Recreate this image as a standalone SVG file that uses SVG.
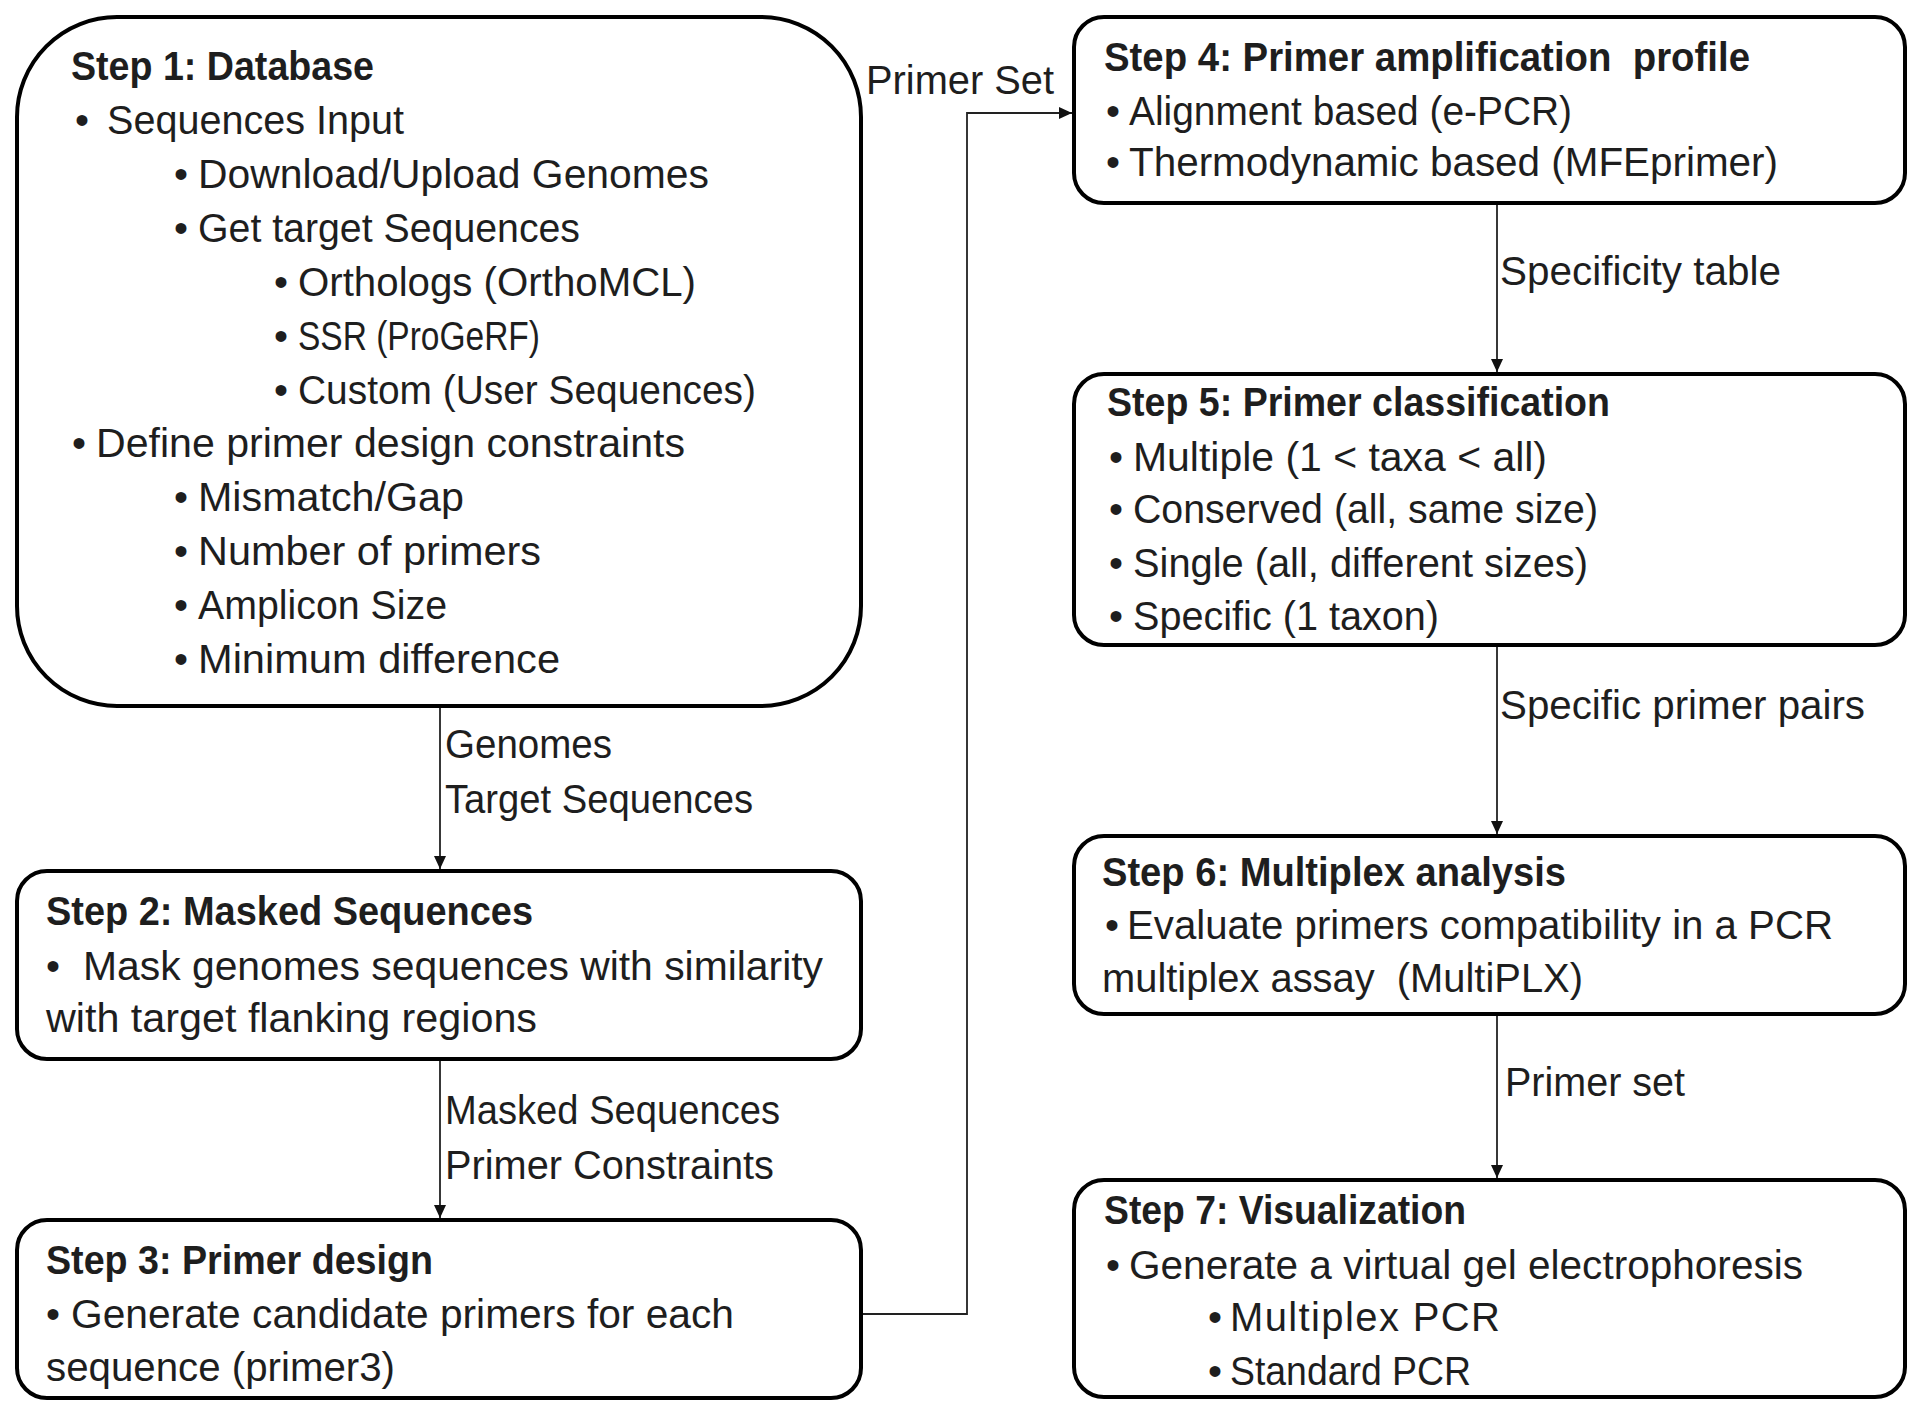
<svg xmlns="http://www.w3.org/2000/svg" width="1908" height="1403" viewBox="0 0 1908 1403">
<style>
.box{fill:#fff;stroke:#000;stroke-width:4}
.t{font-family:"Liberation Sans",Arial,sans-serif;font-size:40px;fill:#1e1e1e}
.b{font-weight:bold}
.c{fill:none;stroke:#222;stroke-width:1.8}
</style>
<defs>
<marker id="ah" markerUnits="userSpaceOnUse" markerWidth="14" markerHeight="12" refX="13" refY="6" orient="auto">
<path d="M0,0 L13,6 L0,12 z" fill="#111"/>
</marker>
</defs>
<rect width="1908" height="1403" fill="#fff"/>
<g id="connectors">
<path class="c" d="M440,706 V869" marker-end="url(#ah)"/>
<path class="c" d="M440,1059 V1218" marker-end="url(#ah)"/>
<path class="c" d="M861,1314 H967 V113 H1072" marker-end="url(#ah)"/>
<path class="c" d="M1497,203 V372" marker-end="url(#ah)"/>
<path class="c" d="M1497,645 V834" marker-end="url(#ah)"/>
<path class="c" d="M1497,1014 V1178" marker-end="url(#ah)"/>
<text class="t" x="866" y="94" textLength="188" lengthAdjust="spacingAndGlyphs">Primer Set</text>
<text class="t" x="445" y="758" textLength="167" lengthAdjust="spacingAndGlyphs">Genomes</text>
<text class="t" x="445" y="813" textLength="308" lengthAdjust="spacingAndGlyphs">Target Sequences</text>
<text class="t" x="445" y="1124" textLength="335" lengthAdjust="spacingAndGlyphs">Masked Sequences</text>
<text class="t" x="445" y="1179" textLength="329" lengthAdjust="spacingAndGlyphs">Primer Constraints</text>
<text class="t" x="1500" y="285" textLength="281" lengthAdjust="spacingAndGlyphs">Specificity table</text>
<text class="t" x="1500" y="719" textLength="365" lengthAdjust="spacingAndGlyphs">Specific primer pairs</text>
<text class="t" x="1505" y="1096" textLength="180" lengthAdjust="spacingAndGlyphs">Primer set</text>
</g>
<g id="step1">
<rect class="box" x="17" y="17" width="844" height="689" rx="100" ry="100"/>
<text class="t b" x="71" y="80" textLength="303" lengthAdjust="spacingAndGlyphs">Step 1: Database</text>
<text class="t" x="75" y="134">•</text>
<text class="t" x="107" y="134" textLength="297" lengthAdjust="spacingAndGlyphs">Sequences Input</text>
<text class="t" x="174" y="188">•</text>
<text class="t" x="198" y="188" textLength="511" lengthAdjust="spacingAndGlyphs">Download/Upload Genomes</text>
<text class="t" x="174" y="242">•</text>
<text class="t" x="198" y="242" textLength="382" lengthAdjust="spacingAndGlyphs">Get target Sequences</text>
<text class="t" x="274" y="296">•</text>
<text class="t" x="298" y="296" textLength="398" lengthAdjust="spacingAndGlyphs">Orthologs (OrthoMCL)</text>
<text class="t" x="274" y="350">•</text>
<text class="t" x="298" y="350" textLength="242" lengthAdjust="spacingAndGlyphs">SSR (ProGeRF)</text>
<text class="t" x="274" y="404">•</text>
<text class="t" x="298" y="404" textLength="458" lengthAdjust="spacingAndGlyphs">Custom (User Sequences)</text>
<text class="t" x="72" y="457">•</text>
<text class="t" x="96" y="457" textLength="589" lengthAdjust="spacingAndGlyphs">Define primer design constraints</text>
<text class="t" x="174" y="511">•</text>
<text class="t" x="198" y="511" textLength="266" lengthAdjust="spacingAndGlyphs">Mismatch/Gap</text>
<text class="t" x="174" y="565">•</text>
<text class="t" x="198" y="565" textLength="343" lengthAdjust="spacingAndGlyphs">Number of primers</text>
<text class="t" x="174" y="619">•</text>
<text class="t" x="198" y="619" textLength="249" lengthAdjust="spacingAndGlyphs">Amplicon Size</text>
<text class="t" x="174" y="673">•</text>
<text class="t" x="198" y="673" textLength="362" lengthAdjust="spacingAndGlyphs">Minimum difference</text>
</g>
<g id="step2">
<rect class="box" x="17" y="871" width="844" height="188" rx="30" ry="30"/>
<text class="t b" x="46" y="925" textLength="487" lengthAdjust="spacingAndGlyphs">Step 2: Masked Sequences</text>
<text class="t" x="46" y="980">•</text>
<text class="t" x="83" y="980" textLength="740" lengthAdjust="spacingAndGlyphs">Mask genomes sequences with similarity</text>
<text class="t" x="46" y="1032" textLength="491" lengthAdjust="spacingAndGlyphs">with target flanking regions</text>
</g>
<g id="step3">
<rect class="box" x="17" y="1220" width="844" height="178" rx="30" ry="30"/>
<text class="t b" x="46" y="1274" textLength="387" lengthAdjust="spacingAndGlyphs">Step 3: Primer design</text>
<text class="t" x="46" y="1328">•</text>
<text class="t" x="71" y="1328" textLength="663" lengthAdjust="spacingAndGlyphs">Generate candidate primers for each</text>
<text class="t" x="46" y="1381" textLength="349" lengthAdjust="spacingAndGlyphs">sequence (primer3)</text>
</g>
<g id="step4">
<rect class="box" x="1074" y="17" width="831" height="186" rx="30" ry="30"/>
<text class="t b" x="1104" y="71" textLength="646" lengthAdjust="spacingAndGlyphs">Step 4: Primer amplification&#160; profile</text>
<text class="t" x="1106" y="125">•</text>
<text class="t" x="1129" y="125" textLength="443" lengthAdjust="spacingAndGlyphs">Alignment based (e-PCR)</text>
<text class="t" x="1106" y="176">•</text>
<text class="t" x="1129" y="176" textLength="649" lengthAdjust="spacingAndGlyphs">Thermodynamic based (MFEprimer)</text>
</g>
<g id="step5">
<rect class="box" x="1074" y="374" width="831" height="271" rx="30" ry="30"/>
<text class="t b" x="1107" y="416" textLength="503" lengthAdjust="spacingAndGlyphs">Step 5: Primer classification</text>
<text class="t" x="1109" y="471">•</text>
<text class="t" x="1133" y="471" textLength="414" lengthAdjust="spacingAndGlyphs">Multiple (1 &lt; taxa &lt; all)</text>
<text class="t" x="1109" y="523">•</text>
<text class="t" x="1133" y="523" textLength="465" lengthAdjust="spacingAndGlyphs">Conserved (all, same size)</text>
<text class="t" x="1109" y="577">•</text>
<text class="t" x="1133" y="577" textLength="455" lengthAdjust="spacingAndGlyphs">Single (all, different sizes)</text>
<text class="t" x="1109" y="630">•</text>
<text class="t" x="1133" y="630" textLength="306" lengthAdjust="spacingAndGlyphs">Specific (1 taxon)</text>
</g>
<g id="step6">
<rect class="box" x="1074" y="836" width="831" height="178" rx="30" ry="30"/>
<text class="t b" x="1102" y="886" textLength="464" lengthAdjust="spacingAndGlyphs">Step 6: Multiplex analysis</text>
<text class="t" x="1105" y="939">•</text>
<text class="t" x="1127" y="939" textLength="706" lengthAdjust="spacingAndGlyphs">Evaluate primers compatibility in a PCR</text>
<text class="t" x="1102" y="992" textLength="481" lengthAdjust="spacingAndGlyphs">multiplex assay&#160; (MultiPLX)</text>
</g>
<g id="step7">
<rect class="box" x="1074" y="1180" width="831" height="217" rx="30" ry="30"/>
<text class="t b" x="1104" y="1224" textLength="362" lengthAdjust="spacingAndGlyphs">Step 7: Visualization</text>
<text class="t" x="1106" y="1279">•</text>
<text class="t" x="1129" y="1279" textLength="674" lengthAdjust="spacingAndGlyphs">Generate a virtual gel electrophoresis</text>
<text class="t" x="1208" y="1331">•</text>
<text class="t" x="1230" y="1331" textLength="270" lengthAdjust="spacing">Multiplex PCR</text>
<text class="t" x="1208" y="1385">•</text>
<text class="t" x="1230" y="1385" textLength="241" lengthAdjust="spacingAndGlyphs">Standard PCR</text>
</g>
</svg>
